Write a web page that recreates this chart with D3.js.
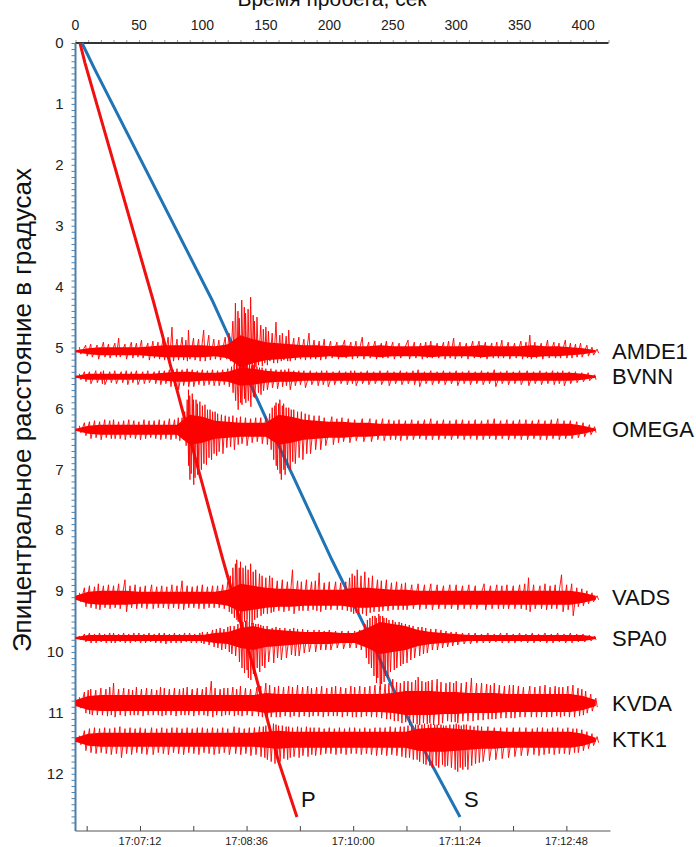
<!DOCTYPE html>
<html>
<head>
<meta charset="utf-8">
<script src="https://cdn.jsdelivr.net/npm/d3@7"></script>
<style>
  body { margin: 0; background: #fff; }
  text { font-family: "Liberation Sans", Arial, sans-serif; }
</style>
</head>
<body>
<svg id="chart" width="696" height="847"></svg>
<script>
// годографы P и S: [расстояние, градусы; время, сек]
const pWave = [[0, 3.5], [0.33, 7.5], [4.22, 61.1], [6.35, 88.3], [8.49, 116.2], [10.34, 141.4], [11.77, 159.6], [12.71, 174.5]];
const sWave = [[0, 5.1], [0.44, 15.4], [4.22, 107.6], [6.24, 151.7], [7.18, 172.9], [8.49, 202.1], [9.69, 230.5],
  [10.67, 251.8], [11.77, 278.7], [12.71, 303]];

const topTickLabels = [0, 50, 100, 150, 200, 250, 300, 350, 400];
const distTickLabels = [0, 1, 2, 3, 4, 5, 6, 7, 8, 9, 10, 11, 12];
const clockTicks = ["17:06:30", "17:07:12", "17:07:54", "17:08:36", "17:09:18", "17:10:00",
  "17:10:42", "17:11:24", "17:12:06", "17:12:48"];
const clockLabels = ["17:07:12", "17:08:36", "17:10:00", "17:11:24", "17:12:48"];
const originTime = "17:06:21.200";

const stations = ["AMDE1", "BVNN", "OMEGA", "VADS", "SPA0", "KVDA", "KTK1"];
const stationDist = [5.06, 5.48, 6.35, 9.11, 9.77, 10.84, 11.44];

// плотная часть записи, шаг 10 сек
const sampleTimes = [0, 10, 20, 30, 40, 50, 60, 70, 80, 90, 100, 110, 120, 130, 140, 150, 160, 170, 180, 190,
  200, 210, 220, 230, 240, 250, 260, 270, 280, 290, 300, 310, 320, 330, 340, 350, 360, 370, 380, 390, 400, 410];
const coreAmp = {
  AMDE1: [1, 3, 4, 4, 4, 4, 5, 6, 6, 6, 6, 5, 7, 16, 12, 9, 8, 7, 6, 6, 5, 6, 5, 5, 6, 5, 5, 5, 6, 5, 5, 5, 6, 5, 5, 5, 6, 5, 5, 4, 3, 1],
  BVNN:  [1, 3, 3, 3, 3, 3, 3, 4, 5, 5, 4, 4, 5, 9, 8, 6, 5, 5, 4, 4, 4, 4, 4, 4, 4, 4, 4, 4, 4, 4, 4, 4, 4, 4, 4, 4, 4, 4, 4, 4, 3, 1],
  OMEGA: [1, 4, 5, 5, 5, 5, 5, 5, 5, 15, 13, 9, 8, 7, 7, 7, 15, 13, 10, 9, 8, 8, 7, 7, 6, 6, 6, 6, 6, 6, 6, 6, 6, 6, 6, 6, 6, 6, 6, 6, 4, 1],
  VADS:  [2, 6, 7, 7, 7, 6, 6, 6, 6, 6, 6, 6, 8, 14, 12, 10, 9, 9, 8, 8, 8, 8, 10, 10, 9, 8, 8, 7, 7, 7, 7, 7, 7, 7, 7, 7, 7, 7, 7, 7, 5, 2],
  SPA0:  [1, 3, 3, 3, 3, 3, 3, 3, 3, 3, 3, 5, 6, 10, 12, 9, 8, 7, 6, 6, 6, 5, 5, 10, 16, 14, 12, 8, 6, 5, 4, 3, 3, 3, 3, 3, 3, 3, 3, 3, 3, 1],
  KVDA:  [3, 7, 8, 8, 8, 8, 8, 8, 8, 8, 8, 8, 8, 8, 8, 10, 9, 9, 9, 9, 9, 9, 9, 9, 9, 10, 12, 12, 12, 11, 11, 10, 10, 10, 9, 9, 9, 9, 9, 9, 7, 3],
  KTK1:  [2, 6, 7, 7, 7, 7, 7, 7, 7, 7, 7, 7, 7, 7, 7, 8, 9, 8, 8, 8, 8, 8, 8, 8, 8, 8, 8, 11, 12, 12, 11, 10, 9, 9, 8, 8, 8, 8, 8, 8, 6, 2]
};

// размахи колебаний: [время, вверх, вниз]
const swings = {
  AMDE1: [[3,4,3],[8,6,5],[12,7,6],[17,6,8],[22,9,6],[26,7,7],[31,8,6],[34,13,6],[39,7,8],[44,9,7],[48,8,6],[52,11,7],
    [57,8,9],[61,10,7],[65,9,8],[69,12,9],[73,14,10],[76,24,10],[80,12,9],[84,14,9],[87,11,10],[89,21,8],[93,13,9],
    [97,12,10],[101,21,10],[105,16,9],[109,12,8],[113,11,9],[118,14,8],[121,18,10],[124,30,14],[126,48,20],[128,40,22],
    [129,33,26],[131,51,18],[133,44,22],[134,38,24],[136,42,20],[138,54,20],[140,36,18],[141,30,16],[143,34,14],
    [146,26,15],[148,22,12],[150,24,14],[152,20,10],[155,18,12],[158,29,12],[161,16,10],[163,18,9],[166,15,10],
    [168,21,10],[172,13,9],[176,14,8],[180,12,9],[184,18,8],[188,11,8],[192,10,9],[196,12,8],[201,10,7],[206,9,8],
    [212,11,7],[217,9,8],[221,10,7],[226,14,8],[231,9,7],[236,10,8],[241,8,7],[245,10,7],[250,9,8],[255,8,7],[262,11,8],
    [267,9,7],[272,8,8],[276,9,7],[280,10,7],[285,8,7],[290,9,8],[294,10,7],[298,13,8],[303,9,7],[308,8,8],[313,10,7],
    [318,10,7],[323,9,8],[328,8,7],[332,9,7],[336,11,7],[341,9,8],[346,8,7],[351,10,8],[355,9,7],[358,16,8],[362,9,7],
    [367,8,8],[372,11,7],[377,9,7],[381,8,7],[386,11,7],[390,8,7],[394,7,6],[398,8,6],[403,6,5],[407,4,4],[411,2,2]],
  BVNN: [[3,3,3],[7,5,5],[11,5,7],[16,6,6],[20,5,7],[22,6,8],[27,5,6],[31,6,7],[36,5,6],[40,6,8],[44,5,6],[48,6,8],
    [53,5,7],[57,6,6],[62,5,7],[66,6,8],[70,6,7],[74,7,10],[77,7,9],[80,8,13],[84,7,9],[88,8,10],[92,7,10],[96,6,8],
    [100,7,9],[104,6,8],[108,7,9],[112,6,9],[116,7,8],[120,8,10],[123,10,16],[125,12,24],[127,14,33],[129,13,26],
    [130,12,28],[132,14,22],[133,16,26],[135,12,24],[137,10,30],[139,11,20],[140,12,21],[143,10,16],[145,9,18],
    [147,9,14],[150,8,13],[154,8,11],[158,7,12],[162,7,10],[165,7,9],[168,8,13],[172,6,9],[176,6,8],[180,6,11],
    [185,6,8],[190,5,9],[194,6,8],[198,6,10],[203,5,8],[208,6,7],[213,5,8],[217,6,7],[220,6,9],[225,5,7],[230,6,8],
    [235,5,7],[240,6,8],[246,6,9],[251,5,7],[256,6,8],[261,5,7],[266,6,8],[270,7,10],[275,5,7],[280,6,8],[285,5,7],
    [290,6,8],[295,5,7],[300,6,9],[305,5,7],[310,6,8],[315,5,7],[320,6,8],[325,5,7],[330,7,10],[335,5,7],[340,6,8],
    [345,5,7],[350,6,8],[356,6,9],[361,5,7],[366,6,8],[371,5,7],[376,6,8],[380,5,7],[384,6,9],[389,5,7],[394,5,6],
    [399,4,5],[404,4,4],[409,2,3]],
  OMEGA: [[3,4,3],[7,7,6],[11,8,9],[15,9,8],[19,8,10],[23,10,8],[27,9,9],[30,10,9],[34,8,9],[38,9,10],[42,10,8],
    [46,9,9],[50,8,10],[54,10,9],[58,9,8],[62,9,9],[66,10,10],[70,9,9],[74,11,10],[78,10,9],[81,12,11],[84,12,10],
    [86,18,16],[88,30,36],[89,40,50],[90,34,44],[92,36,55],[93,30,48],[95,30,45],[96,26,38],[98,28,40],[100,24,34],
    [102,25,35],[104,20,28],[106,20,30],[108,18,24],[110,18,26],[112,16,22],[115,15,24],[118,14,18],[121,13,17],
    [124,14,20],[127,12,15],[130,13,14],[134,12,16],[138,11,13],[142,12,12],[146,12,14],[150,13,15],[153,16,20],
    [155,22,30],[157,24,36],[158,27,40],[160,26,44],[161,30,50],[163,24,40],[164,26,45],[166,22,38],[168,22,40],
    [170,20,32],[172,20,34],[175,18,28],[178,18,30],[181,16,24],[184,15,24],[188,14,20],[192,14,20],[196,12,16],
    [202,13,15],[206,11,13],[210,12,12],[215,11,13],[220,10,11],[226,11,12],[232,11,12],[237,10,10],[242,11,11],
    [247,10,10],[251,9,10],[255,10,11],[260,9,10],[265,10,10],[270,9,9],[275,10,10],[280,11,10],[285,9,10],[290,10,9],
    [295,9,10],[300,10,9],[305,10,10],[310,9,9],[315,10,10],[320,9,10],[325,10,9],[330,11,10],[335,9,9],[340,10,10],
    [345,9,9],[350,10,10],[355,10,10],[360,9,9],[365,10,10],[370,9,10],[375,10,9],[380,11,10],[385,9,9],[390,9,9],
    [395,8,8],[400,7,7],[405,5,5],[409,3,3]],
  VADS: [[3,5,4],[7,10,9],[11,12,10],[15,11,11],[18,14,12],[22,12,10],[26,13,11],[30,12,10],[34,14,11],[39,18,14],
    [43,12,10],[47,13,11],[51,11,10],[55,12,11],[60,13,11],[64,11,10],[68,12,10],[72,11,11],[76,13,10],[80,12,11],
    [84,17,12],[88,12,10],[92,11,10],[96,12,11],[100,13,11],[104,11,10],[108,12,10],[112,12,10],[116,13,11],[120,16,14],
    [122,22,16],[124,30,20],[126,34,22],[127,38,24],[129,30,26],[130,36,28],[132,30,24],[134,32,22],[136,28,24],
    [138,34,26],[140,26,22],[142,28,20],[145,24,18],[147,22,16],[150,20,16],[153,22,15],[155,20,14],[159,17,13],
    [163,18,14],[167,16,13],[171,28,16],[175,17,13],[178,16,13],[182,18,13],[186,16,12],[189,17,13],[192,25,14],
    [196,15,12],[200,16,12],[205,16,12],[209,15,12],[213,16,13],[216,20,14],[218,24,16],[220,22,15],[222,28,16],
    [225,22,16],[228,26,18],[231,20,15],[234,22,14],[238,18,14],[241,17,13],[245,18,13],[249,15,12],[253,16,12],
    [257,14,12],[260,15,12],[265,13,11],[270,14,12],[275,13,11],[280,14,12],[285,13,11],[290,12,11],[295,13,11],
    [300,13,12],[305,12,11],[310,13,11],[315,12,11],[322,14,12],[327,12,11],[332,13,11],[336,12,11],[340,13,11],
    [345,12,11],[350,13,11],[354,14,12],[357,20,14],[361,13,11],[366,12,11],[370,14,12],[374,12,11],[378,13,11],
    [383,23,14],[387,13,12],[391,14,18],[395,10,9],[399,9,8],[403,7,6],[407,5,4],[411,2,2]],
  SPA0: [[3,2,2],[7,4,4],[11,5,5],[15,4,5],[19,5,4],[23,4,5],[27,5,5],[30,5,5],[34,4,4],[38,5,5],[42,4,5],[46,5,4],
    [50,5,5],[54,4,5],[58,5,4],[62,4,5],[66,5,5],[70,5,6],[74,4,5],[78,5,5],[82,4,5],[86,5,4],[90,5,5],[94,4,5],
    [98,5,5],[100,6,6],[104,6,7],[108,8,9],[111,9,10],[114,10,12],[117,9,11],[120,11,14],[122,12,16],[125,12,18],
    [128,14,24],[130,15,30],[132,16,35],[134,17,32],[135,18,40],[137,16,42],[139,15,36],[140,15,38],[142,14,30],
    [144,14,34],[146,13,28],[148,12,30],[151,12,24],[155,10,25],[158,11,20],[161,10,22],[165,10,20],[169,9,17],
    [172,10,18],[175,9,18],[179,9,15],[183,8,14],[188,8,14],[192,8,12],[196,7,12],[200,8,12],[205,7,10],[210,7,11],
    [215,7,10],[220,7,10],[224,8,12],[228,14,20],[230,18,26],[232,20,30],[234,22,38],[236,22,45],[237,20,40],
    [239,24,52],[240,22,46],[242,22,44],[243,20,38],[245,20,40],[247,18,34],[250,18,32],[252,16,30],[255,16,28],
    [257,15,26],[260,14,25],[263,13,22],[266,12,20],[270,11,18],[273,11,16],[276,10,15],[280,9,12],[284,9,12],
    [288,8,10],[292,7,9],[296,6,8],[300,6,7],[305,5,6],[310,5,6],[315,5,5],[320,4,5],[325,5,5],[330,4,4],[335,5,5],
    [340,5,5],[345,4,5],[350,5,4],[355,4,5],[360,5,5],[365,4,4],[370,5,5],[375,4,5],[380,5,4],[385,4,5],[390,5,5],
    [395,4,4],[400,4,4],[405,3,3],[409,2,2]],
  KVDA: [[3,6,5],[7,11,10],[10,13,11],[12,14,12],[16,13,12],[20,15,12],[24,14,13],[27,16,12],[30,20,14],[34,14,12],
    [38,15,13],[42,14,12],[45,13,12],[48,16,12],[52,14,13],[56,15,12],[60,14,12],[64,13,12],[67,16,13],[70,15,12],
    [74,14,12],[78,15,13],[82,14,12],[85,15,12],[88,16,12],[92,14,13],[96,15,12],[100,14,12],[103,16,13],[107,22,14],
    [110,15,12],[114,14,13],[117,15,12],[120,15,12],[124,16,13],[127,14,12],[130,17,13],[134,15,12],[138,14,13],
    [143,16,13],[146,17,14],[150,20,15],[153,18,14],[157,16,14],[160,17,14],[164,16,13],[168,17,14],[171,16,13],
    [175,18,14],[179,16,13],[183,17,14],[186,15,13],[190,16,13],[194,17,14],[198,15,13],[202,16,13],[205,17,13],
    [209,16,14],[213,15,13],[217,17,14],[220,16,14],[224,17,14],[228,16,13],[232,17,14],[236,18,14],[240,17,15],
    [244,19,16],[247,20,16],[250,24,18],[253,21,18],[256,20,20],[259,22,19],[262,22,22],[265,21,20],[268,23,21],
    [270,26,22],[273,22,20],[276,21,21],[278,22,20],[281,23,22],[285,24,22],[288,21,20],[292,20,18],[295,21,19],
    [298,20,19],[300,22,20],[304,20,18],[308,21,18],[312,25,18],[316,20,17],[320,20,17],[324,19,16],[327,18,16],
    [330,20,16],[334,18,15],[338,17,15],[342,18,15],[345,18,15],[349,17,14],[353,16,14],[358,17,14],[362,16,14],
    [366,17,14],[370,18,14],[374,16,14],[378,17,13],[381,16,14],[384,16,13],[388,17,14],[392,18,14],[396,15,13],
    [399,14,12],[402,12,10],[406,9,8],[410,5,4]],
  KTK1: [[3,4,5],[7,9,11],[11,11,13],[15,12,14],[19,11,13],[23,12,14],[27,11,15],[31,12,14],[35,13,18],[39,11,14],
    [43,12,15],[47,11,13],[51,12,14],[55,11,15],[60,12,15],[64,11,13],[68,12,14],[72,11,15],[76,12,13],[80,12,14],
    [84,11,15],[88,12,13],[92,11,14],[96,12,15],[100,12,13],[104,11,14],[108,12,15],[112,11,14],[116,12,13],[120,11,15],
    [125,13,14],[129,12,15],[133,11,14],[137,12,16],[141,12,15],[145,13,17],[148,13,18],[150,14,20],[153,15,22],
    [156,16,24],[158,15,20],[160,14,22],[163,14,19],[166,13,20],[168,13,18],[171,12,17],[175,13,18],[178,12,16],
    [182,13,17],[185,12,15],[188,12,16],[192,12,15],[196,11,14],[200,12,14],[204,11,15],[208,12,14],[212,11,15],
    [216,12,14],[220,12,14],[224,11,15],[228,12,14],[232,11,15],[236,12,16],[240,12,15],[244,12,16],[248,13,15],
    [252,12,16],[256,13,17],[259,13,18],[262,14,18],[265,14,20],[268,15,20],[270,15,22],[273,15,24],[275,16,25],
    [278,15,26],[280,16,28],[283,15,26],[285,15,28],[288,15,25],[290,14,27],[292,14,26],[295,15,28],[298,15,30],
    [300,16,32],[302,15,28],[304,14,30],[306,15,27],[308,15,30],[311,14,26],[314,13,24],[317,14,23],[320,13,22],
    [325,13,21],[330,12,20],[335,12,19],[340,12,18],[345,12,17],[350,12,16],[355,12,16],[360,11,15],[364,12,16],
    [368,12,15],[372,11,14],[376,12,15],[380,12,14],[384,11,14],[388,12,15],[392,11,13],[395,11,13],[399,10,11],
    [403,8,9],[407,6,6],[411,3,3]]
};

const svg = d3.select('#chart');
const mLeft = 75.5, mRight = 608.5, mTop = 43, mBottom = 831;

const x = d3.scaleLinear().domain([0, 420]).range([mLeft, mRight]);
const y = d3.scaleLinear().domain([0, 12.94]).range([mTop, mBottom]);
const amp = d3.scaleLinear().domain([0, 10]).range([0, 10]);

const parseClock = d3.timeParse('%H:%M:%S.%L');
const parseTick = d3.timeParse('%H:%M:%S');
const t0 = parseClock(originTime);
const clock = d3.scaleTime().domain([t0, new Date(t0.getTime() + 420000)]).range([mLeft, mRight]);

// верхняя ось, время пробега
const topAxis = svg.append('g').attr('transform', `translate(0,${mTop})`);
topAxis.call(d3.axisTop(x).tickValues(d3.range(0, 421, 10)).tickSize(3).tickFormat(''))
  .call(g => g.selectAll('.tick line').attr('stroke', '#999'))
  .call(g => g.select('.domain').remove());
topAxis.append('line').attr('x1', mLeft).attr('x2', mRight).attr('stroke', '#333').attr('stroke-width', 2);
topAxis.selectAll('.lbl').data(topTickLabels).join('text')
  .attr('x', d => x(d)).attr('y', -13).attr('text-anchor', 'middle')
  .attr('font-size', 14).attr('fill', '#222').text(d => d);

svg.append('text').attr('x', 332).attr('y', 6).attr('text-anchor', 'middle')
  .attr('font-size', 21).attr('fill', '#111').text('Время пробега, сек');

// левая ось, расстояние
const leftAxis = svg.append('g').attr('transform', `translate(${mLeft},0)`);
leftAxis.call(d3.axisLeft(y).tickValues(d3.range(0, 129).map(i => i / 10)).tickSize(4).tickFormat(''))
  .call(g => g.selectAll('.tick line').attr('stroke', '#4a86b8'))
  .call(g => g.select('.domain').remove());
leftAxis.append('line').attr('y1', mTop).attr('y2', mBottom).attr('stroke', '#4f7fa8').attr('stroke-width', 2);
leftAxis.selectAll('.lbl').data(distTickLabels).join('text')
  .attr('x', -12).attr('y', d => y(d)).attr('dy', '0.35em').attr('text-anchor', 'end')
  .attr('font-size', 15).attr('fill', '#222').text(d => d);

svg.append('text').attr('transform', 'translate(31,410) rotate(-90)').attr('text-anchor', 'middle')
  .attr('font-size', 26).attr('fill', '#111').text('Эпицентральное расстояние в градусах');

// нижняя ось, время по часам
const atClock = s => {
  const p = parseTick(s), r = new Date(t0);
  r.setHours(p.getHours(), p.getMinutes(), p.getSeconds(), 0);
  return r;
};
const bottomAxis = svg.append('g').attr('transform', `translate(0,${mBottom})`);
bottomAxis.call(d3.axisTop(clock).tickValues(clockTicks.map(atClock)).tickSize(5).tickFormat(''))
  .call(g => g.selectAll('.tick line').attr('stroke', '#444'))
  .call(g => g.select('.domain').remove());
bottomAxis.append('line').attr('x1', mLeft).attr('x2', mRight + 2).attr('stroke', '#555').attr('stroke-width', 1);
bottomAxis.selectAll('.lbl').data(clockLabels).join('text')
  .attr('x', d => clock(atClock(d)))
  .attr('y', 14).attr('text-anchor', 'middle').attr('font-size', 11).attr('fill', '#222').text(d => d);

// годографы
const curve = d3.line().x(d => x(d[1])).y(d => y(d[0]));
svg.append('path').attr('d', curve(sWave)).attr('fill', 'none').attr('stroke', '#1f74b6').attr('stroke-width', 3);
svg.append('path').attr('d', curve(pWave)).attr('fill', 'none').attr('stroke', '#f01010').attr('stroke-width', 3);

// сейсмограммы
stations.forEach((name, i) => {
  const c = y(stationDist[i]);
  const g = svg.append('g');
  const area = d3.area()
    .x((d, j) => x(sampleTimes[j]))
    .y0(d => c - amp(d)).y1(d => c + amp(d));
  g.append('path').attr('d', area(coreAmp[name])).attr('fill', '#ff0000');
  const wiggle = swings[name].flatMap(d => [[d[0], -d[1]], [d[0] + 1.2, d[2]]]);
  g.append('path')
    .attr('d', d3.line().x(d => x(d[0])).y(d => c + amp(d[1]))(wiggle))
    .attr('fill', 'none').attr('stroke', '#f00').attr('stroke-width', 0.9);
  svg.append('text').attr('x', 612).attr('y', c).attr('dy', '0.35em')
    .attr('font-size', 22).attr('fill', '#111').text(name);
});

// подписи волн
const pEnd = pWave[pWave.length - 1], sEnd = sWave[sWave.length - 1];
svg.append('text').attr('x', x(pEnd[1]) + 4).attr('y', y(pEnd[0]) - 10)
  .attr('font-size', 22).attr('fill', '#111').text('P');
svg.append('text').attr('x', x(sEnd[1]) + 4).attr('y', y(sEnd[0]) - 10)
  .attr('font-size', 22).attr('fill', '#111').text('S');
</script>
</body>
</html>
